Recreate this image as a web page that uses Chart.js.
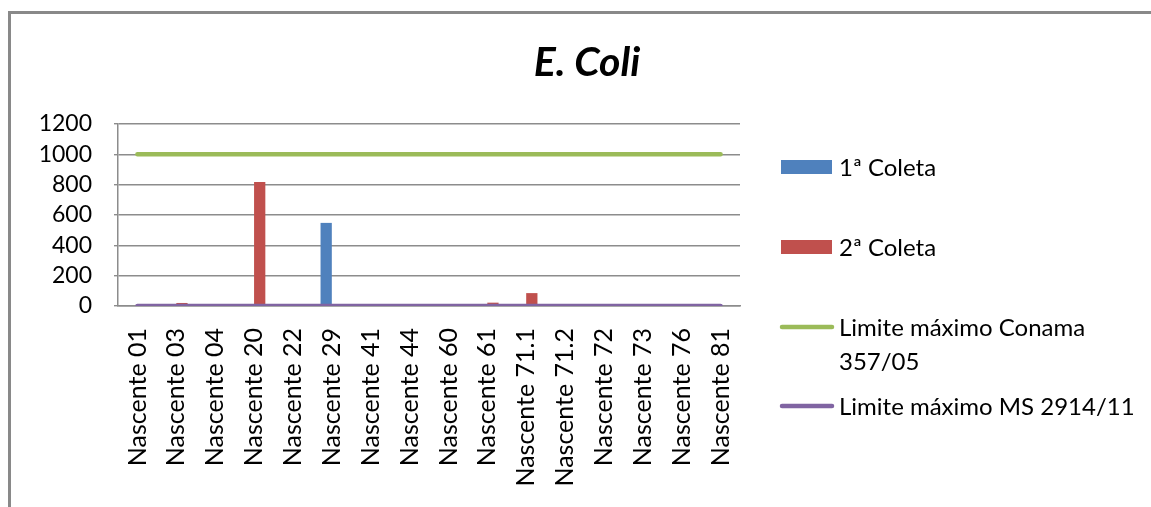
<!DOCTYPE html>
<html>
<head>
<meta charset="utf-8">
<title>E. Coli</title>
<script src="https://cdn.jsdelivr.net/npm/chart.js@4"></script>
<style>
  html, body { margin: 0; padding: 0; background: #ffffff; }
  #wrap { position: relative; width: 1151px; height: 507px; }
</style>
</head>
<body>
<div id="wrap"><canvas id="chart" width="1151" height="507"></canvas></div>
<script>
// Sampling points (springs)
const categories = [
  'Nascente 01', 'Nascente 03', 'Nascente 04', 'Nascente 20', 'Nascente 22',
  'Nascente 29', 'Nascente 41', 'Nascente 44', 'Nascente 60', 'Nascente 61',
  'Nascente 71.1', 'Nascente 71.2', 'Nascente 72', 'Nascente 73', 'Nascente 76',
  'Nascente 81'
];

// E. coli counts per collection
const coleta1 = [0, 0, 0, 0, 0, 548, 0, 0, 0, 0, 0, 0, 0, 0, 0, 0];
const coleta2 = [0, 20, 0, 818, 0, 0, 0, 0, 0, 22, 85, 0, 0, 0, 0, 0];

// Reference limits
const limiteConama = [1000, 1000, 1000, 1000, 1000, 1000, 1000, 1000, 1000, 1000, 1000, 1000, 1000, 1000, 1000, 1000];
const limiteMS = [0, 0, 0, 0, 0, 0, 0, 0, 0, 0, 0, 0, 0, 0, 0, 0];

// Value axis ticks
const yTicks = [0, 200, 400, 600, 800, 1000, 1200];

const seriesNames = ['1ª Coleta', '2ª Coleta', 'Limite máximo Conama 357/05', 'Limite máximo MS 2914/11'];
const colors = { c1: '#4F81BD', c2: '#C0504D', conama: '#9BBB59', ms: '#8064A2' };

const FONT = 'Lato, "DejaVu Sans", sans-serif';

// Outer frame, title and the side legend
const decorations = {
  id: 'decorations',
  beforeDraw(chart) {
    const ctx = chart.ctx;
    ctx.save();
    ctx.fillStyle = '#ffffff';
    ctx.fillRect(0, 0, chart.width, chart.height);
    ctx.strokeStyle = '#898989';
    ctx.lineWidth = 3;
    ctx.beginPath();
    ctx.moveTo(9.5, chart.height);
    ctx.lineTo(9.5, 12.5);
    ctx.lineTo(chart.width, 12.5);
    ctx.stroke();
    ctx.restore();
  },
  afterDraw(chart) {
    const ctx = chart.ctx;
    ctx.save();
    // title
    ctx.fillStyle = '#000000';
    ctx.font = 'italic bold 41px ' + FONT;
    ctx.textAlign = 'center';
    ctx.textBaseline = 'alphabetic';
    ctx.fillText('E. Coli', 587, 76);

    // legend
    ctx.font = '24px ' + FONT;
    ctx.textAlign = 'left';
    ctx.textBaseline = 'middle';
    const ds = chart.data.datasets;
    // bar swatches
    ctx.fillStyle = ds[0].backgroundColor;
    ctx.fillRect(781, 160, 51, 14);
    ctx.fillStyle = '#000';
    ctx.fillText(ds[0].label, 839, 168);

    ctx.fillStyle = ds[1].backgroundColor;
    ctx.fillRect(781, 240, 51, 14);
    ctx.fillStyle = '#000';
    ctx.fillText(ds[1].label, 839, 248);

    // line swatches
    ctx.lineCap = 'round';
    ctx.lineWidth = 4.5;
    ctx.strokeStyle = ds[2].borderColor;
    ctx.beginPath(); ctx.moveTo(782, 327); ctx.lineTo(832, 327); ctx.stroke();
    ctx.fillStyle = '#000';
    ctx.fillText('Limite máximo Conama', 839, 328);
    ctx.fillText('357/05', 839, 362);

    ctx.strokeStyle = ds[3].borderColor;
    ctx.beginPath(); ctx.moveTo(782, 406); ctx.lineTo(832, 406); ctx.stroke();
    ctx.fillText(ds[3].label, 839, 407);
    ctx.restore();
  }
};

new Chart(document.getElementById('chart'), {
  type: 'bar',
  data: {
    labels: categories,
    datasets: [
      { type: 'bar', label: seriesNames[0], data: coleta1, backgroundColor: colors.c1, order: 2,
        categoryPercentage: 0.58, barPercentage: 1.0 },
      { type: 'bar', label: seriesNames[1], data: coleta2, backgroundColor: colors.c2, order: 2,
        categoryPercentage: 0.58, barPercentage: 1.0 },
      { type: 'line', label: seriesNames[2], data: limiteConama, borderColor: colors.conama,
        backgroundColor: colors.conama, borderWidth: 4.5, pointRadius: 0, borderCapStyle: 'round',
        fill: false, tension: 0, order: 1 },
      { type: 'line', label: seriesNames[3], data: limiteMS, borderColor: colors.ms,
        backgroundColor: colors.ms, borderWidth: 4.5, pointRadius: 0, borderCapStyle: 'round',
        fill: false, tension: 0, order: 0 }
    ]
  },
  options: {
    responsive: false,
    animation: false,
    devicePixelRatio: 1,
    layout: { padding: { left: 0, right: 411, top: 124, bottom: 0 } },
    plugins: {
      legend: { display: false },
      title: { display: false },
      tooltip: { enabled: false }
    },
    scales: {
      x: {
        offset: true,
        grid: { display: false, drawTicks: false },
        border: { display: true, color: '#8c8c8c', width: 1.5 },
        ticks: {
          color: '#000', autoSkip: false, maxRotation: 90, minRotation: 90, padding: 22,
          font: { family: FONT, size: 25 }
        },
        afterFit(scale) { scale.height = 201; }
      },
      y: {
        min: 0,
        max: 1200,
        afterBuildTicks(scale) { scale.ticks = yTicks.map(v => ({ value: v })); },
        grid: { color: '#8c8c8c', lineWidth: 1.4, tickLength: 4 },
        border: { display: true, color: '#8c8c8c', width: 1.5 },
        ticks: {
          color: '#000', padding: 22, autoSkip: false,
          font: { family: FONT, size: 23 },
          callback: (value) => String(value)
        },
        afterFit(scale) { scale.width = 118; }
      }
    }
  },
  plugins: [decorations]
});
</script>
</body>
</html>
